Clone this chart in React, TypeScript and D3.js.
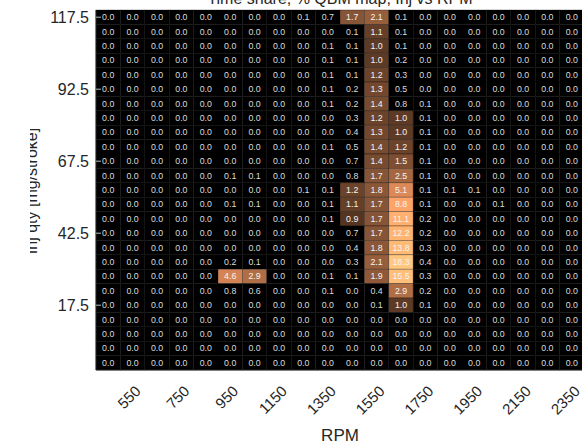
import React from "react";
import * as d3 from "d3";

// RPM bins (columns) and injection bins (rows, top to bottom)
const rpmBins = [450, 550, 650, 750, 850, 950, 1050, 1150, 1250, 1350, 1450, 1550, 1650, 1750, 1850, 1950, 2050, 2150, 2250, 2350];
const injBins = [117.5, 112.5, 107.5, 102.5, 97.5, 92.5, 87.5, 82.5, 77.5, 72.5, 67.5, 62.5, 57.5, 52.5, 47.5, 42.5, 37.5, 32.5, 27.5, 22.5, 17.5, 12.5, 7.5, 2.5, -2.5];
const rpmTicks = [550, 750, 950, 1150, 1350, 1550, 1750, 1950, 2150, 2350];
const injTicks = [117.5, 92.5, 67.5, 42.5, 17.5];

// time share [%] per cell, one row per injection bin
const share = [
  [0, 0, 0, 0, 0, 0, 0, 0, 0.1, 0.7, 1.7, 2.1, 0.1, 0, 0, 0, 0, 0, 0, 0],
  [0, 0, 0, 0, 0, 0, 0, 0, 0, 0, 0.1, 1.1, 0.1, 0, 0, 0, 0, 0, 0, 0],
  [0, 0, 0, 0, 0, 0, 0, 0, 0, 0.1, 0.1, 1.0, 0.1, 0, 0, 0, 0, 0, 0, 0],
  [0, 0, 0, 0, 0, 0, 0, 0, 0, 0.1, 0.1, 1.0, 0.2, 0, 0, 0, 0, 0, 0, 0],
  [0, 0, 0, 0, 0, 0, 0, 0, 0, 0.1, 0.1, 1.2, 0.3, 0, 0, 0, 0, 0, 0, 0],
  [0, 0, 0, 0, 0, 0, 0, 0, 0, 0.1, 0.2, 1.3, 0.5, 0, 0, 0, 0, 0, 0, 0],
  [0, 0, 0, 0, 0, 0, 0, 0, 0, 0.1, 0.2, 1.4, 0.8, 0.1, 0, 0, 0, 0, 0, 0],
  [0, 0, 0, 0, 0, 0, 0, 0, 0, 0, 0.3, 1.2, 1.0, 0.1, 0, 0, 0, 0, 0, 0],
  [0, 0, 0, 0, 0, 0, 0, 0, 0, 0, 0.4, 1.3, 1.0, 0.1, 0, 0, 0, 0, 0, 0],
  [0, 0, 0, 0, 0, 0, 0, 0, 0, 0.1, 0.5, 1.4, 1.2, 0.1, 0, 0, 0, 0, 0, 0],
  [0, 0, 0, 0, 0, 0, 0, 0, 0, 0, 0.7, 1.4, 1.5, 0.1, 0, 0, 0, 0, 0, 0],
  [0, 0, 0, 0, 0, 0.1, 0.1, 0, 0, 0, 0.8, 1.7, 2.5, 0.1, 0, 0, 0, 0, 0, 0],
  [0, 0, 0, 0, 0, 0, 0, 0, 0.1, 0.1, 1.2, 1.8, 5.1, 0.1, 0.1, 0.1, 0, 0, 0, 0],
  [0, 0, 0, 0, 0, 0.1, 0.1, 0, 0, 0.1, 1.1, 1.7, 8.8, 0.1, 0, 0, 0.1, 0, 0, 0],
  [0, 0, 0, 0, 0, 0, 0, 0, 0, 0.1, 0.9, 1.7, 11.1, 0.2, 0, 0, 0, 0, 0, 0],
  [0, 0, 0, 0, 0, 0, 0, 0, 0, 0, 0.7, 1.7, 12.2, 0.2, 0, 0, 0, 0, 0, 0],
  [0, 0, 0, 0, 0, 0, 0, 0, 0, 0, 0.4, 1.8, 13.8, 0.3, 0, 0, 0, 0, 0, 0],
  [0, 0, 0, 0, 0, 0.2, 0.1, 0, 0, 0, 0.3, 2.1, 18.3, 0.4, 0, 0, 0, 0, 0, 0],
  [0, 0, 0, 0, 0, 4.6, 2.9, 0, 0, 0.1, 0.1, 1.9, 15.5, 0.3, 0, 0, 0, 0, 0, 0],
  [0, 0, 0, 0, 0, 0.8, 0.6, 0, 0, 0.1, 0, 0.4, 2.9, 0.2, 0, 0, 0, 0, 0, 0],
  [0, 0, 0, 0, 0, 0, 0, 0, 0, 0, 0, 0.1, 1.0, 0.1, 0, 0, 0, 0, 0, 0],
  [0, 0, 0, 0, 0, 0, 0, 0, 0, 0, 0, 0, 0, 0, 0, 0, 0, 0, 0, 0],
  [0, 0, 0, 0, 0, 0, 0, 0, 0, 0, 0, 0, 0, 0, 0, 0, 0, 0, 0, 0],
  [0, 0, 0, 0, 0, 0, 0, 0, 0, 0, 0, 0, 0, 0, 0, 0, 0, 0, 0, 0],
  [0, 0, 0, 0, 0, 0, 0, 0, 0, 0, 0, 0, 0, 0, 0, 0, 0, 0, 0, 0],
];

const W = 582, H = 445;
const margin = { top: 10, left: 96 };
const plotW = 488, plotH = 360;
const font = "'Liberation Sans', Arial, sans-serif";

// copper colormap on a log scale, small values left black
const t = d3.scaleLog().domain([0.3, 18.3]).range([0, 1]).clamp(true);
const copper = (v: number) => {
  if (v < 0.85) return "#000";
  const k = t(v);
  return d3.rgb(Math.min(1, 1.25 * k) * 255, 0.7812 * k * 255, 0.4975 * k * 255).toString();
};

export default function App() {
  const x = d3.scaleBand().domain(rpmBins.map(String)).range([margin.left, margin.left + plotW]);
  const y = d3.scaleBand().domain(injBins.map(String)).range([margin.top, margin.top + plotH]);
  const bw = x.bandwidth(), bh = y.bandwidth();
  const fmt = d3.format(".1f");

  const cells = [];
  share.forEach((row, i) => {
    row.forEach((v, j) => {
      cells.push({ v, rpm: rpmBins[j], inj: injBins[i] });
    });
  });

  return (
    <svg width={W} height={H} style={{ position: "absolute", left: 0, top: 0, background: "#fff" }} fontFamily={font}>
      <defs>
        <clipPath id="ylab-clip">
          <rect x={30} y={0} width={60} height={H} />
        </clipPath>
      </defs>
      <text x={340} y={4} textAnchor="middle" fontSize={16} fill="#262626">
        Time share, % QBM map, Inj vs RPM
      </text>
      <g>
        {cells.map((c, k) => (
          <rect key={k} x={x(String(c.rpm))} y={y(String(c.inj))} width={bw} height={bh}
            fill={copper(c.v)} stroke="#000" strokeWidth={0.6} strokeOpacity={0.5} />
        ))}
      </g>
      <g fontSize={8.8} textAnchor="middle" fill="#e6e6e6">
        {cells.map((c, k) => (
          <text key={k} x={(x(String(c.rpm)) as number) + bw / 2} y={(y(String(c.inj)) as number) + bh / 2}
            dy="0.35em" fill={c.v >= 0.85 ? "#f4f4f4" : "#dcdcdc"}>{fmt(c.v)}</text>
        ))}
      </g>
      <line x1={margin.left} x2={margin.left} y1={margin.top} y2={margin.top + plotH} stroke="#262626" strokeWidth={1} />
      <line x1={margin.left} x2={margin.left + plotW} y1={margin.top + plotH} y2={margin.top + plotH} stroke="#262626" strokeWidth={1} />
      {injTicks.map(v => {
        const cy = (y(String(v)) as number) + bh / 2;
        return (
          <g key={v}>
            <line x1={margin.left} x2={margin.left + 5} y1={cy} y2={cy} stroke="#bbb" strokeWidth={1} />
            <text x={89} y={cy} dy="0.35em" textAnchor="end" fontSize={16} fill="#262626">{v}</text>
          </g>
        );
      })}
      {rpmTicks.map(v => {
        const cx = (x(String(v)) as number) + bw / 2 + 9;
        return (
          <text key={v} transform={`translate(${cx},392) rotate(-45)`} textAnchor="end" fontSize={15} fill="#262626">{v}</text>
        );
      })}
      <text x={margin.left + plotW / 2} y={441} textAnchor="middle" fontSize={17} fill="#262626">RPM</text>
      <g clipPath="url(#ylab-clip)">
        <text transform={`translate(37,191) rotate(-90)`} textAnchor="middle" fontSize={16} fill="#262626">Inj qty [mg/stroke]</text>
      </g>
    </svg>
  );
}
